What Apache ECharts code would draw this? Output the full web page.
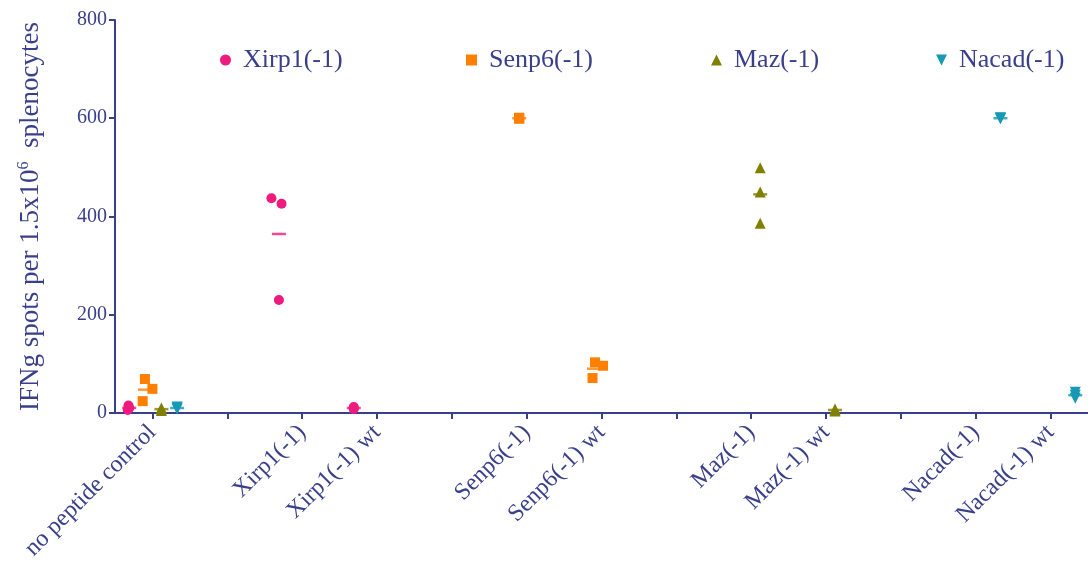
<!DOCTYPE html>
<html>
<head>
<meta charset="utf-8">
<script src="https://cdn.jsdelivr.net/npm/echarts@6/dist/echarts.min.js"></script>
<style>
html,body{margin:0;padding:0;background:#fff;}
#chart{width:1088px;height:563px;}
</style>
</head>
<body>
<div id="chart"></div>
<script>
// Tick labels along the x axis (empty = unlabeled spacer tick)
const categories = ['no peptide control', '', 'Xirp1(-1)', 'Xirp1(-1) wt', '', 'Senp6(-1)', 'Senp6(-1) wt', '', 'Maz(-1)', 'Maz(-1) wt', '', 'Nacad(-1)', 'Nacad(-1) wt'];
const yTicks = [0, 200, 400, 600, 800];
const seriesNames = ['Xirp1(-1)', 'Senp6(-1)', 'Maz(-1)', 'Nacad(-1)'];

// [category index, value] per replicate
const xirp1Values = [[0, 15], [0, 6], [0, 10], [2, 437], [2, 426], [2, 230], [3, 10], [3, 8], [3, 12]];
const senp6Values = [[0, 69], [0, 49], [0, 24], [5, 601], [5, 599], [5, 600], [6, 103], [6, 96], [6, 71]];
const mazValues   = [[0, 8], [0, 5], [0, 10], [8, 499], [8, 450], [8, 386], [9, 6], [9, 4], [9, 8]];
const nacadValues = [[0, 12], [0, 8], [0, 10], [11, 600], [11, 601], [11, 599], [12, 42], [12, 36], [12, 30]];

// horizontal scatter of replicates (category units)
const xirp1Jitter = [-0.01, -0.02, 0, -0.1, 0.035, 0, 0, 0, 0];
const senp6Jitter = [0, 0.1, -0.03, 0, 0, 0, 0.013, 0.12, -0.02];
const mazJitter   = [0, 0, 0, 0, 0, 0, 0, 0, 0];
const nacadJitter = [0, 0, 0, 0, 0, 0, 0, 0, 0];

// sub-column offset of each data set within a group (category units)
const seriesOffset = [-0.31, -0.1, 0.12, 0.33];
const colors = ['#EE1A7E', '#FF8000', '#808000', '#1599B4'];
const symbols = ['circle', 'rect', 'triangle', 'path://M0,0 L10,0 L5,10 Z'];
const legendLeft = [215, 461, 706, 931];

const allValues = [xirp1Values, senp6Values, mazValues, nacadValues];
const allJitter = [xirp1Jitter, senp6Jitter, mazJitter, nacadJitter];
const axisColor = '#3A3F8C';
const font = '"Liberation Serif", "Times New Roman", serif';

const series = [];
allValues.forEach((vals, s) => {
  series.push({
    name: seriesNames[s],
    type: 'scatter',
    symbol: symbols[s],
    symbolSize: s === 0 ? 10 : (s === 1 ? 10 : 11),
    itemStyle: { color: colors[s], opacity: 1 },
    data: vals.map((d, i) => [d[0] + seriesOffset[s] + allJitter[s][i], d[1]]),
    z: 3
  });
  // group means
  const groups = {};
  vals.forEach(d => { (groups[d[0]] = groups[d[0]] || []).push(d[1]); });
  const means = Object.keys(groups).map(k => {
    const arr = groups[k];
    return [Number(k) + seriesOffset[s], arr.reduce((a, b) => a + b, 0) / arr.length];
  });
  series.push({
    name: seriesNames[s] + ' mean',
    type: 'scatter',
    symbol: 'rect',
    symbolSize: [14, 2.5],
    itemStyle: { color: colors[s] },
    data: means,
    z: 2
  });
});

const legends = seriesNames.map((n, s) => ({
  data: [{ name: n, icon: symbols[s] }],
  left: legendLeft[s],
  top: 42,
  itemWidth: 11,
  itemHeight: 11,
  itemGap: 0,
  selectedMode: false,
  textStyle: { fontFamily: font, fontSize: 26, color: axisColor, padding: [0, 0, 0, 7] }
}));

const chart = echarts.init(document.getElementById('chart'), null, { renderer: 'canvas' });
chart.setOption({
  animation: false,
  backgroundColor: '#ffffff',
  legend: legends,
  grid: { left: 115, top: 20, width: 975, bottom: 147, containLabel: false },
  xAxis: {
    type: 'value',
    min: -0.5,
    max: categories.length - 0.5,
    splitLine: { show: false },
    axisLine: { show: true, onZero: false, lineStyle: { color: axisColor, width: 2 } },
    axisTick: {
      show: true, length: 6, inside: false,
      customValues: categories.map((c, i) => i),
      lineStyle: { color: axisColor, width: 2 }
    },
    axisLabel: {
      customValues: categories.map((c, i) => i),
      formatter: v => categories[Math.round(v)] || '',
      rotate: 45,
      margin: 16,
      fontFamily: font,
      fontSize: 24,
      color: axisColor
    }
  },
  yAxis: {
    type: 'value',
    min: yTicks[0],
    max: yTicks[yTicks.length - 1],
    interval: 200,
    splitLine: { show: false },
    axisLine: { show: true, onZero: false, lineStyle: { color: axisColor, width: 2 } },
    axisTick: { show: true, length: 6, lineStyle: { color: axisColor, width: 2 } },
    axisLabel: { fontFamily: font, fontSize: 20, color: axisColor, margin: 8 },
    name: '{a|IFNg spots per 1.5x10}{s|6}{a|  splenocytes}',
    nameLocation: 'middle',
    nameGap: 69,
    nameTextStyle: {
      color: axisColor,
      fontFamily: font,
      fontSize: 27,
      rich: {
        a: { fontFamily: font, fontSize: 27, color: axisColor, lineHeight: 30 },
        s: { fontFamily: font, fontSize: 16, color: axisColor, lineHeight: 30, verticalAlign: 'top', padding: [0, 0, 12, 0] }
      }
    }
  },
  series: series
});
</script>
</body>
</html>
